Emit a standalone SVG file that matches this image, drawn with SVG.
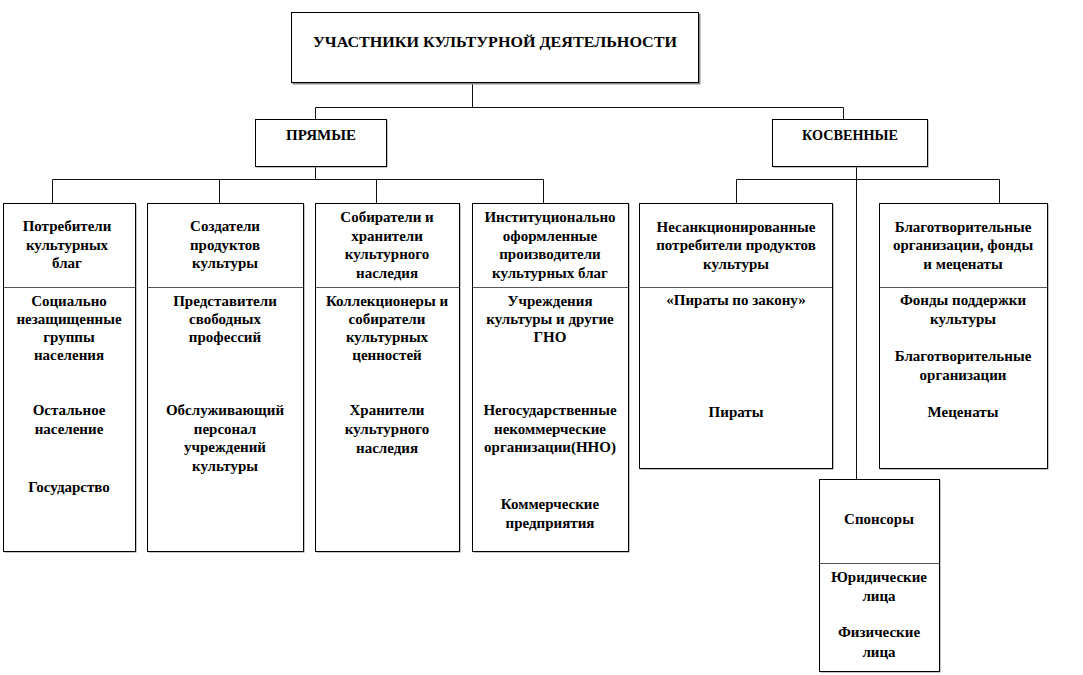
<svg xmlns="http://www.w3.org/2000/svg" width="1083" height="675" viewBox="0 0 1083 675">
<style>
.box{fill:#fff;stroke:#000;stroke-width:1}
.sh{fill:#8a8a8a}
.div{stroke:#555;stroke-width:1}
.c{stroke:#111;stroke-width:1;fill:none}
text{font-family:"Liberation Serif","Times New Roman",serif;font-weight:700;font-size:15px;fill:#000;text-anchor:middle}
.t{font-size:14px}
</style>
<rect width="1083" height="675" fill="#fff"/>
<g id="connectors">
<path class="c" d="M472.5 83 V107.5 M315.5 107.5 H843.5 M315.5 107.5 V119 M843.5 107.5 V119"/>
<path class="c" d="M315.5 167 V179.5 M52.5 179.5 H543.5 M52.5 179.5 V203 M219.5 179.5 V203 M376.5 179.5 V203 M543.5 179.5 V203"/>
<path class="c" d="M856.5 167 V479 M736.5 179.5 H999.5 M736.5 179.5 V203 M999.5 179.5 V203"/>
</g>
<g id="root">
<rect class="sh" x="292.5" y="13.5" width="408" height="71"/>
<rect class="box" x="291.5" y="12.5" width="407" height="70"/>
<text class="t" x="495" y="47" textLength="364" lengthAdjust="spacingAndGlyphs">УЧАСТНИКИ КУЛЬТУРНОЙ ДЕЯТЕЛЬНОСТИ</text>
</g>
<g id="direct">
<rect class="sh" x="256.5" y="120.5" width="131" height="47"/>
<rect class="box" x="255.5" y="119.5" width="131" height="47"/>
<text class="t" x="321" y="140" textLength="70" lengthAdjust="spacingAndGlyphs">ПРЯМЫЕ</text>
</g>
<g id="indirect">
<rect class="sh" x="773.5" y="120.5" width="155" height="47"/>
<rect class="box" x="772.5" y="119.5" width="155" height="47"/>
<text class="t" x="850" y="140" textLength="96" lengthAdjust="spacingAndGlyphs">КОСВЕННЫЕ</text>
</g>
<g id="consumers">
<rect class="sh" x="4.5" y="204.5" width="132" height="348"/>
<rect class="box" x="3.5" y="203.5" width="132" height="348"/>
<line class="div" x1="4" y1="287.5" x2="135" y2="287.5"/>
<text x="67" y="231">Потребители</text>
<text x="67" y="249.5">культурных</text>
<text x="67" y="268">благ</text>
<text x="69" y="306">Социально</text>
<text x="69" y="324">незащищенные</text>
<text x="69" y="342">группы</text>
<text x="69" y="360">населения</text>
<text x="69" y="415">Остальное</text>
<text x="69" y="434">население</text>
<text x="69" y="492">Государство</text>
</g>
<g id="creators">
<rect class="sh" x="148.5" y="204.5" width="156" height="348"/>
<rect class="box" x="147.5" y="203.5" width="156" height="348"/>
<line class="div" x1="148" y1="287.5" x2="303" y2="287.5"/>
<text x="225" y="231">Создатели</text>
<text x="225" y="249.5">продуктов</text>
<text x="225" y="268">культуры</text>
<text x="225" y="306">Представители</text>
<text x="225" y="324">свободных</text>
<text x="225" y="342">профессий</text>
<text x="225" y="415">Обслуживающий</text>
<text x="225" y="433.5">персонал</text>
<text x="225" y="452">учреждений</text>
<text x="225" y="470.5">культуры</text>
</g>
<g id="collectors">
<rect class="sh" x="316.5" y="204.5" width="144" height="348"/>
<rect class="box" x="315.5" y="203.5" width="144" height="348"/>
<line class="div" x1="316" y1="287.5" x2="459" y2="287.5"/>
<text x="387" y="222">Собиратели и</text>
<text x="387" y="240.5">хранители</text>
<text x="387" y="259">культурного</text>
<text x="387" y="277.5">наследия</text>
<text x="387" y="306">Коллекционеры и</text>
<text x="387" y="324">собиратели</text>
<text x="387" y="342">культурных</text>
<text x="387" y="360">ценностей</text>
<text x="387" y="415">Хранители</text>
<text x="387" y="434">культурного</text>
<text x="387" y="453">наследия</text>
</g>
<g id="institutional">
<rect class="sh" x="473.5" y="204.5" width="156" height="348"/>
<rect class="box" x="472.5" y="203.5" width="156" height="348"/>
<line class="div" x1="473" y1="287.5" x2="628" y2="287.5"/>
<text x="550" y="222">Институционально</text>
<text x="550" y="240.5">оформленные</text>
<text x="550" y="259">производители</text>
<text x="550" y="277.5">культурных  благ</text>
<text x="550" y="306">Учреждения</text>
<text x="550" y="324">культуры  и другие</text>
<text x="550" y="342">ГНО</text>
<text x="550" y="415">Негосударственные</text>
<text x="550" y="433.5">некоммерческие</text>
<text x="550" y="452">организации(ННО)</text>
<text x="550" y="509">Коммерческие</text>
<text x="550" y="528">предприятия</text>
</g>
<g id="unsanctioned">
<rect class="sh" x="640.5" y="204.5" width="193" height="265"/>
<rect class="box" x="639.5" y="203.5" width="193" height="265"/>
<line class="div" x1="640" y1="287.5" x2="832" y2="287.5"/>
<text x="736" y="231.5">Несанкционированные</text>
<text x="736" y="250">потребители продуктов</text>
<text x="736" y="268.5">культуры</text>
<text x="736" y="305">«Пираты по закону»</text>
<text x="736" y="417">Пираты</text>
</g>
<g id="charity">
<rect class="sh" x="880.5" y="204.5" width="168" height="265"/>
<rect class="box" x="879.5" y="203.5" width="168" height="265"/>
<line class="div" x1="880" y1="287.5" x2="1047" y2="287.5"/>
<text x="963" y="231.5">Благотворительные</text>
<text x="963" y="250">организации, фонды</text>
<text x="963" y="268.5">и меценаты</text>
<text x="963" y="305">Фонды поддержки</text>
<text x="963" y="323.5">культуры</text>
<text x="963" y="361">Благотворительные</text>
<text x="963" y="380">организации</text>
<text x="963" y="417">Меценаты</text>
</g>
<g id="sponsors">
<rect class="sh" x="820.5" y="480.5" width="120" height="192"/>
<rect class="box" x="819.5" y="479.5" width="120" height="192"/>
<line class="div" x1="820" y1="563.5" x2="939" y2="563.5"/>
<text x="879" y="524">Спонсоры</text>
<text x="879" y="582">Юридические</text>
<text x="879" y="600.5">лица</text>
<text x="879" y="637">Физические</text>
<text x="879" y="657">лица</text>
</g>
</svg>
